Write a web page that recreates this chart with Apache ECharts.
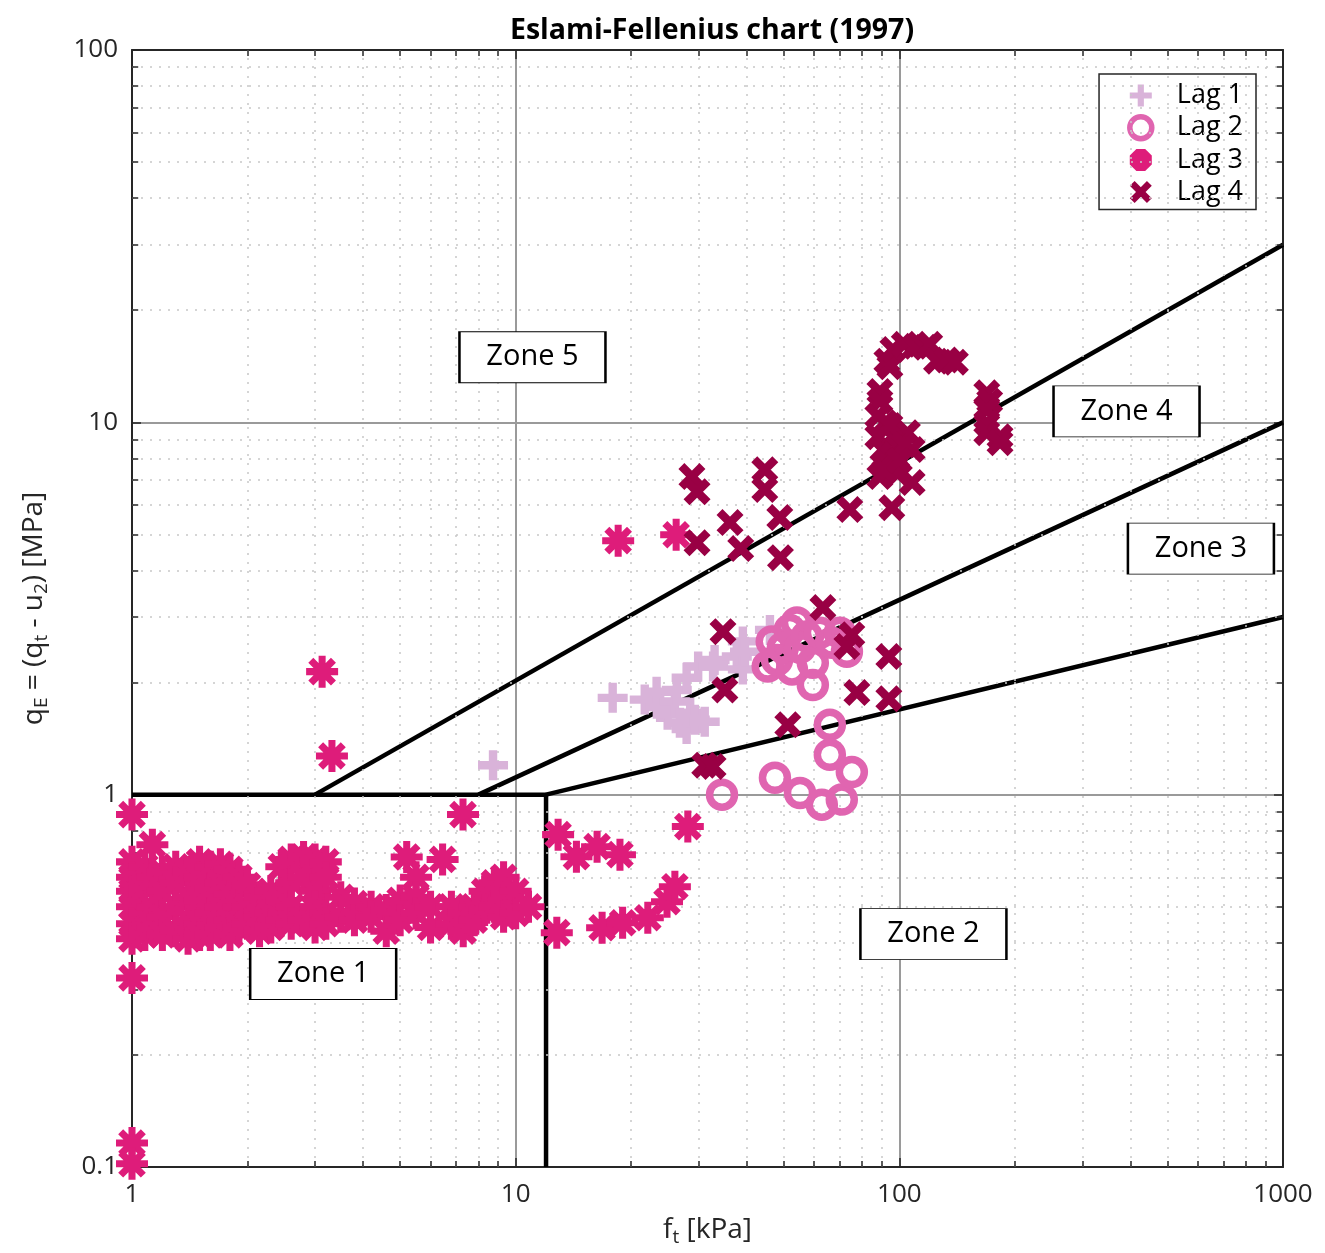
<!DOCTYPE html>
<html>
<head>
<meta charset="utf-8">
<script src="https://cdn.jsdelivr.net/npm/echarts@6/dist/echarts.min.js"></script>
<style>html,body{margin:0;padding:0;background:#fff;}#c{width:1325px;height:1253px;}</style>
</head>
<body>
<div id="c"></div>
<script>
// ---------- data ----------
const titleText = 'Eslami-Fellenius chart (1997)';
const seriesNames = ['Lag 1', 'Lag 2', 'Lag 3', 'Lag 4'];
const seriesColors = ['#d9b3d9', '#e065b0', '#de1c7a', '#990044'];

const lag1 = [[8.73,1.20],[17.9,1.82],[21.7,1.80],[23.3,1.89],[23.8,1.72],[24.9,1.64],[26.0,1.78],[26.3,1.91],
  [26.8,1.56],[27.9,2.06],[27.9,1.50],[28.5,1.66],[29.3,1.59],[29.9,2.21],[31.1,1.57],[32.7,2.21],[33.0,2.30],
  [37.7,2.35],[39.1,2.58],[39.1,2.17],[39.6,2.42],[46.0,2.77]];

const lag2 = [[34.5,1.00],[47.4,1.11],[55.1,1.01],[62.8,0.940],[70.8,0.970],[75.2,1.15],[65.9,1.28],[65.9,1.54],
  [59.5,1.97],[45.4,2.21],[46.5,2.58],[48.0,2.30],[49.7,2.48],[51.8,2.77],[52.5,2.17],[54.1,2.90],[55.1,2.48],
  [57.4,2.66],[59.5,2.26],[62.1,2.72],[66.7,2.56],[70.0,2.72],[73.0,2.42]];

const lag3 = [
  [1.0,0.884],[1.0,0.66],[1.0,0.6],[1.0,0.55],[1.0,0.5],[1.0,0.45],[1.0,0.41],[1.0,0.322],[1.0,0.116],[1.0,0.102],
  [1.08,0.64],[1.08,0.56],[1.08,0.48],[1.08,0.42],
  [1.13,0.734],[1.13,0.6],[1.13,0.5],[1.13,0.44],
  [1.2,0.62],[1.2,0.55],[1.2,0.47],[1.2,0.42],
  [1.3,0.64],[1.3,0.58],[1.3,0.5],[1.3,0.43],
  [1.4,0.62],[1.4,0.53],[1.4,0.46],[1.4,0.41],
  [1.5,0.66],[1.5,0.6],[1.5,0.52],[1.5,0.45],[1.5,0.42],
  [1.6,0.64],[1.6,0.56],[1.6,0.48],[1.6,0.42],
  [1.7,0.65],[1.7,0.58],[1.7,0.5],[1.7,0.44],
  [1.8,0.63],[1.8,0.54],[1.8,0.46],[1.8,0.42],
  [1.9,0.6],[1.9,0.5],[1.9,0.44],
  [2.0,0.57],[2.0,0.5],[2.0,0.45],
  [2.15,0.53],[2.15,0.47],[2.15,0.43],
  [2.3,0.55],[2.3,0.48],[2.3,0.44],
  [2.45,0.64],[2.45,0.52],[2.45,0.46],
  [2.6,0.67],[2.6,0.58],[2.6,0.5],[2.6,0.45],
  [2.8,0.68],[2.8,0.6],[2.8,0.46],
  [3.0,0.67],[3.0,0.55],[3.0,0.5],[3.0,0.44],
  [3.2,0.66],[3.2,0.6],[3.2,0.48],[3.2,0.45],
  [3.13,2.14],[3.32,1.27],
  [3.5,0.53],[3.5,0.47],[3.8,0.51],[3.8,0.46],[4.2,0.5],[4.2,0.47],[4.6,0.49],[4.6,0.43],
  [5.0,0.52],[5.0,0.46],[5.2,0.68],[5.5,0.6],[5.5,0.53],[5.5,0.48],[6.0,0.5],[6.0,0.44],[6.45,0.67],
  [6.8,0.5],[6.8,0.45],[7.29,0.884],[7.3,0.48],[7.3,0.43],[7.8,0.5],[7.8,0.46],[8.3,0.55],[8.3,0.49],
  [8.8,0.58],[8.8,0.5],[9.3,0.6],[9.3,0.52],[9.3,0.47],[10.0,0.55],[10.0,0.48],[10.8,0.5],
  [12.9,0.781],[14.4,0.681],[16.3,0.725],[18.7,0.690],
  [12.8,0.426],[16.8,0.439],[19.0,0.453],[22.1,0.467],[24.8,0.516],[26.0,0.566],
  [18.5,4.81],[26.2,4.99],[28.1,0.821]
];

const lag4 = [[28.8,7.15],[29.7,6.51],[29.7,4.75],[36.2,5.38],[38.6,4.58],[44.6,7.46],[44.6,6.60],[48.8,5.55],
  [49.0,4.33],[74.3,5.83],[95.6,5.90],[108,6.89],
  [34.7,2.74],[35.1,1.91],[31.1,1.20],[32.7,1.19],[51.2,1.54],[63.2,3.18],[75.2,2.69],[73.0,2.50],[77.5,1.88],
  [93.9,2.35],[93.9,1.81],
  [92.8,14.6],[94.5,14.1],[96.2,15.7],[103,16.2],[110,16.0],[117,15.9],[120,16.2],[125,14.6],[133,14.7],[140,14.5],
  [89.0,12.1],[89.0,11.4],[87.9,10.4],[91.7,9.98],[87.9,9.15],[96.2,9.15],[105,9.38],[90.6,8.45],[99.1,8.61],
  [108,8.45],[92.8,7.79],[89.0,7.15],[98.5,7.33],[94.5,9.8],[97,8.2],[103,8.7],[91.7,7.4],[100,7.9],
  [169,12.0],[172,11.4],[169,10.8],[169,9.98],[169,9.38],[183,9.15],[183,8.82]];

// zone boundaries
const boundaryLow = [[1,1],[12,1],[12,0.1]];
const boundary54 = [[3,1],[1000,30]];
const boundary43 = [[8,1],[1000,10]];
const boundary32 = [[12,1],[1000,3]];

// zone labels
const zoneNames = ['Zone 5','Zone 4','Zone 3','Zone 2','Zone 1'];
const zoneX = [11.06, 391, 611, 122.7, 3.15];
const zoneY = [14.96, 10.7, 4.58, 0.422, 0.330];

// axes
const xMin = 1, xMax = 1000, yMin = 0.1, yMax = 100;
const xDecades = [1, 10, 100];
const yDecades = [0.1, 1, 10];
const minorMult = [2,3,4,5,6,7,8,9];

// ---------- build ----------
const FONT = '"Open Sans", "DejaVu Sans", sans-serif';
const plusPath = 'path://M36,0H64V36H100V64H64V100H36V64H0V36H36Z';
const xPath = 'path://M0,22L22,0L100,78L78,100Z M78,0L100,22L22,100L0,78Z';
const starPath = 'path://M0,39H100V61H0Z M39,0H61V100H39Z M22.4,6.8L93.2,77.6L77.6,93.2L6.8,22.4Z M77.6,6.8L93.2,22.4L22.4,93.2L6.8,77.6Z';
const octPath = 'path://M30,0H70L100,30V70L70,100H30L0,70V30Z';

const minorX = [], minorY = [];
xDecades.forEach(d => minorMult.forEach(m => minorX.push(d * m)));
yDecades.forEach(d => minorMult.forEach(m => minorY.push(+(d * m).toPrecision(3))));

const gridMarks = [];
minorX.forEach(v => gridMarks.push({ xAxis: v }));
minorY.forEach(v => gridMarks.push({ yAxis: v }));

const tkx = 1.038, tky = 1.038;
const tickMarks = [];
minorX.forEach(v => {
  tickMarks.push([{ coord: [v, yMin] }, { coord: [v, yMin * tky] }]);
  tickMarks.push([{ coord: [v, yMax / tky] }, { coord: [v, yMax] }]);
});
minorY.forEach(v => {
  tickMarks.push([{ coord: [xMin, v] }, { coord: [xMin * tkx, v] }]);
  tickMarks.push([{ coord: [xMax / tkx, v] }, { coord: [xMax, v] }]);
});

const axisColor = '#262626';
function mkAxis(isX, main) {
  return {
    type: 'log', logBase: 10,
    min: isX ? xMin : yMin, max: isX ? xMax : yMax,
    position: isX ? (main ? 'bottom' : 'top') : (main ? 'left' : 'right'),
    axisLine: { show: true, onZero: false, lineStyle: { color: axisColor, width: 2 } },
    axisTick: { show: true, inside: true, length: 9, lineStyle: { color: axisColor, width: 1.5 } },
    axisLabel: { show: main, fontSize: 26, color: axisColor, fontFamily: FONT, margin: isX ? 15 : 14,
      formatter: v => String(v) },
    splitLine: { show: main, lineStyle: { color: '#9a9a9a', width: 2 } },
    minorTick: { show: false }
  };
}
const xA = mkAxis(true, true), xB = mkAxis(true, false);
const yA = mkAxis(false, true), yB = mkAxis(false, false);
const nameRich = {
  n: { fontSize: 28, fontFamily: FONT, color: axisColor, verticalAlign: 'top', lineHeight: 32 },
  s: { fontSize: 19, fontFamily: FONT, color: axisColor, verticalAlign: 'top', lineHeight: 32, padding: [12,0,0,0] }
};
xA.name = '{n|f}{s|t}{n| [kPa]}';
xA.nameLocation = 'middle';
xA.nameGap = 49;
xA.nameTextStyle = { rich: nameRich };
yA.name = '{n|q}{s|E}{n| = (q}{s|t}{n| - u}{s|2}{n|) [MPa]}';
yA.nameLocation = 'middle';
yA.nameGap = 80;
yA.nameTextStyle = { rich: nameRich };

const lineStyleZone = { color: '#000', width: 4.5 };
function zoneLine(d) {
  return { type: 'line', data: d, symbol: 'none', silent: true, lineStyle: lineStyleZone, z: 3, clip: true, animation: false };
}
function scatter(name, data, symbol, size, style, z) {
  return { type: 'scatter', name, data, symbol, symbolSize: size, itemStyle: Object.assign({ opacity: 1 }, style), z, clip: false, silent: true, animation: false };
}

const option = {
  animation: false,
  backgroundColor: '#fff',
  title: { text: titleText, left: 707, textAlign: 'center', top: 11, textStyle: { fontFamily: FONT, fontWeight: 'bold', fontSize: 28.5, color: '#000' } },
  grid: { left: 132, top: 50, right: 42, bottom: 86 },
  xAxis: [xA, xB],
  yAxis: [yA, yB],
  legend: {
    orient: 'vertical', right: 69, top: 74, itemWidth: 50, itemHeight: 22, itemGap: 5,
    padding: [8, 13, 4, 28], borderColor: axisColor, borderWidth: 1.5, backgroundColor: '#fff',
    textStyle: { fontSize: 27, color: '#000', fontFamily: FONT, padding: [0,0,0,6] },
    selectedMode: false,
    data: [
      { name: 'Lag 1', icon: plusPath, itemStyle: { opacity: 1 } },
      { name: 'Lag 2', icon: 'circle', itemStyle: { opacity: 1, color: 'rgba(0,0,0,0)', borderColor: seriesColors[1], borderWidth: 5.5 } },
      { name: 'Lag 3', icon: octPath, itemStyle: { opacity: 1, color: seriesColors[2], borderWidth: 0 } },
      { name: 'Lag 4', icon: xPath, itemStyle: { opacity: 1 } }
    ]
  },
  series: [
    { type: 'line', data: [], silent: true, z: 1,
      markLine: { silent: true, symbol: 'none', animation: false, label: { show: false },
        lineStyle: { color: '#c8c8c8', type: [2, 7], width: 1.5 }, data: gridMarks } },
    { type: 'line', data: [], silent: true, z: 2,
      markLine: { silent: true, symbol: 'none', animation: false, label: { show: false },
        lineStyle: { color: axisColor, type: 'solid', width: 1.5 }, data: tickMarks } },
    zoneLine(boundaryLow), zoneLine(boundary54), zoneLine(boundary43), zoneLine(boundary32),
    scatter(seriesNames[0], lag1, plusPath, 30, { color: seriesColors[0] }, 5),
    scatter(seriesNames[1], lag2, 'circle', 25, { color: 'rgba(0,0,0,0)', borderColor: seriesColors[1], borderWidth: 7.5 }, 6),
    scatter(seriesNames[2], lag3, starPath, 32, { color: seriesColors[2] }, 7),
    scatter(seriesNames[3], lag4, xPath, 27, { color: seriesColors[3] }, 8),
    { type: 'scatter', silent: true, z: 10, clip: false, symbol: 'rect', symbolSize: [146, 51],
      itemStyle: { color: '#fff', borderColor: '#000', borderWidth: 1.5, opacity: 1 },
      label: { show: true, position: 'inside', formatter: p => p.name, fontSize: 29, color: '#000', fontFamily: FONT },
      data: zoneNames.map((n, i) => ({ name: n, value: [zoneX[i], zoneY[i]] })) }
  ]
};

const chart = echarts.init(document.getElementById('c'), null, { renderer: 'canvas' });
chart.setOption(option);
</script>
</body>
</html>
